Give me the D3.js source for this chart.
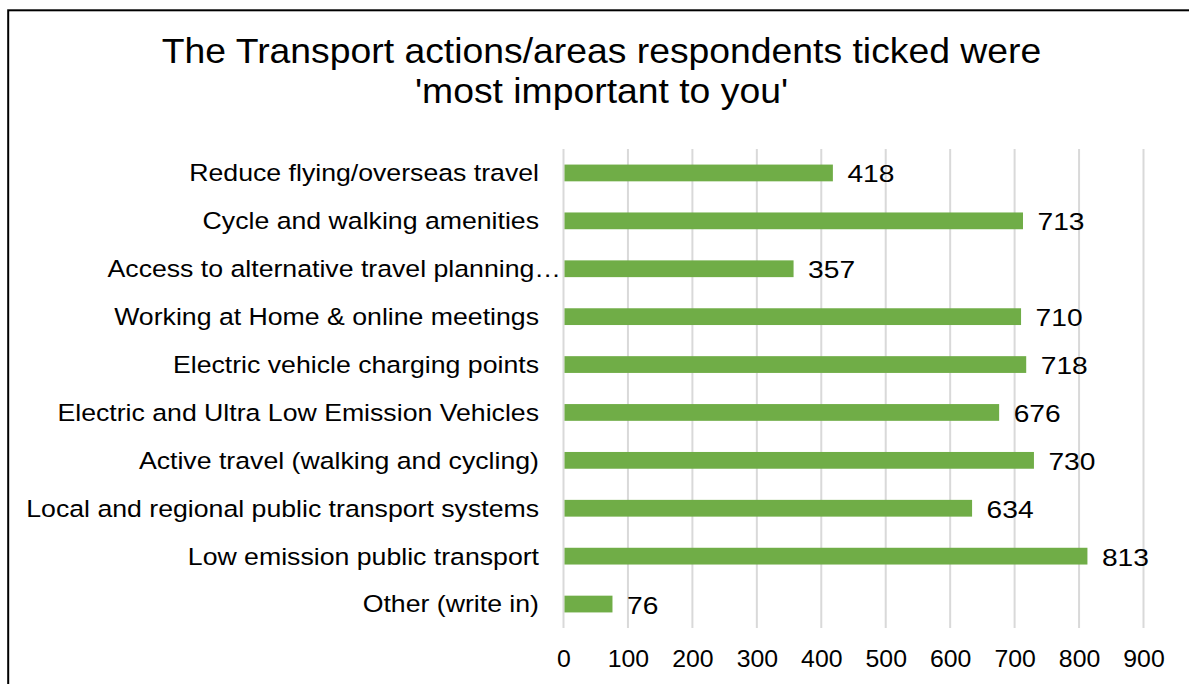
<!DOCTYPE html>
<html>
<head>
<meta charset="utf-8">
<script src="https://cdn.jsdelivr.net/npm/d3@7"></script>
<style>
  html, body { margin: 0; padding: 0; background: #fff; }
  svg { display: block; }
  text { font-family: "Liberation Sans", Arial, sans-serif; fill: #000; }
</style>
</head>
<body>
<svg id="chart" width="1189" height="684"></svg>
<script>
const titleLines = ["The Transport actions/areas respondents ticked were", "'most important to you'"];
const categories = [
  "Reduce flying/overseas travel",
  "Cycle and walking amenities",
  "Access to alternative travel planning…",
  "Working at Home & online meetings",
  "Electric vehicle charging points",
  "Electric and Ultra Low Emission Vehicles",
  "Active travel (walking and cycling)",
  "Local and regional public transport systems",
  "Low emission public transport",
  "Other (write in)"
];
const values = [418, 713, 357, 710, 718, 676, 730, 634, 813, 76];
const xTicks = [0, 100, 200, 300, 400, 500, 600, 700, 800, 900];

const svg = d3.select("#chart");

// outer frame
svg.append("rect")
  .attr("x", 8.2).attr("y", 10.3)
  .attr("width", 1300).attr("height", 800)
  .attr("fill", "none").attr("stroke", "#000").attr("stroke-width", 2);

// helper: text with a horizontal stretch
function stretchedText(parent, tx, ty, sx, size, anchor, str) {
  const g = parent.append("g").attr("transform", `translate(${tx},${ty}) scale(${sx},1)`);
  g.append("text")
    .attr("text-anchor", anchor)
    .style("font-size", size + "px")
    .text(str);
  return g;
}

// title
titleLines.forEach((t, i) => stretchedText(svg, 601.5, 63.3 + i * 39.5, 1.037, 36, "middle", t));

const x = d3.scaleLinear().domain([0, 900]).range([563.5, 1143.5]);
const y = d3.scaleBand().domain(categories).range([149, 628]).paddingInner(0.65).paddingOuter(0.325);

// gridlines
svg.append("g").selectAll("line")
  .data(xTicks).join("line")
  .attr("x1", d => x(d)).attr("x2", d => x(d))
  .attr("y1", 149).attr("y2", 628)
  .attr("stroke", "#d9d9d9").attr("stroke-width", 2);

// bars
svg.append("g").selectAll("rect")
  .data(values).join("rect")
  .attr("x", x(0) + 1)
  .attr("y", (d, i) => y(categories[i]))
  .attr("width", d => x(d) - x(0) - 1)
  .attr("height", y.bandwidth())
  .attr("fill", "#70ad47");

// value labels
const gv = svg.append("g");
values.forEach((d, i) => {
  stretchedText(gv, x(d) + 14.5, y(categories[i]) + y.bandwidth() / 2 + 9.5, 1.16, 24.3, "start", d);
});

// category axis labels
const gc = svg.append("g");
categories.forEach(c => {
  stretchedText(gc, c.endsWith("…") ? 561 : 539, y(c) + y.bandwidth() / 2 + 8.4, 1.135, 23.5, "end", c);
});

// x axis tick labels
const xAxis = d3.axisBottom(x).tickValues(xTicks).tickSize(0).tickPadding(0);
const gx = svg.append("g").attr("transform", "translate(0,666.7)").call(xAxis);
gx.select(".domain").remove();
gx.selectAll(".tick text")
  .attr("dy", null).attr("y", 0)
  .attr("transform", "scale(1.08,1)")
  .style("font-size", "23px")
  .style("font-family", "'Liberation Sans', Arial, sans-serif")
  .attr("fill", "#000");
</script>
</body>
</html>
